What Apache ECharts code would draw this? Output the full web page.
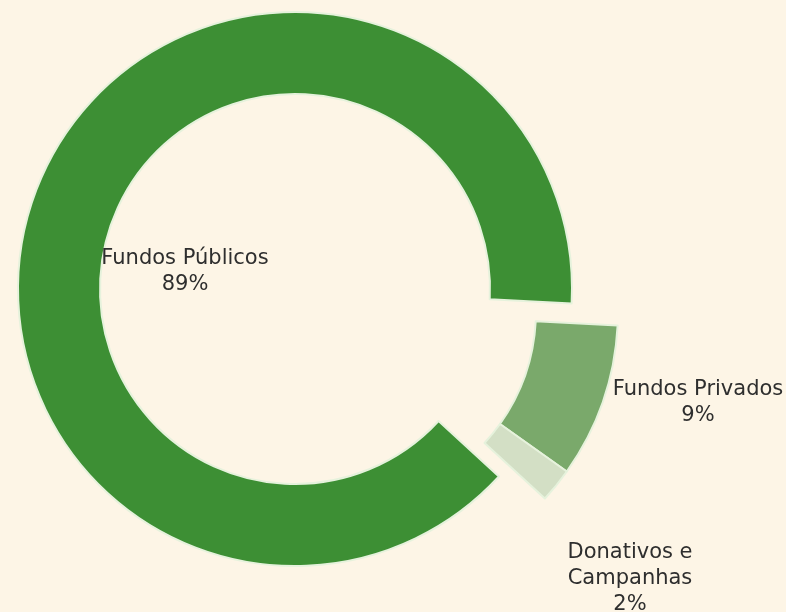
<!DOCTYPE html>
<html>
<head>
<meta charset="utf-8">
<script src="https://cdn.jsdelivr.net/npm/echarts@6/dist/echarts.min.js"></script>
<style>
  html, body { margin: 0; padding: 0; background: #fdf5e6; }
  #chart { width: 786px; height: 612px; }
</style>
</head>
<body>
<div id="chart"></div>
<script>
// Funding sources, share of total (%)
const categories = ['Fundos Privados', 'Donativos e Campanhas', 'Fundos Públicos'];
const shares = [9, 2, 89];
const sliceColors = ['#7aa96b', '#d3dfc5', '#3d8f34'];

// Which categories are pulled out of the ring
const pulledOut = ['Fundos Privados', 'Donativos e Campanhas'];

// Label anchor points (centre of each label block)
const labelSpots = {
  'Fundos Públicos': [185, 272],
  'Fundos Privados': [698, 403],
  'Donativos e Campanhas': [630, 579]
};
const labelText = {
  'Fundos Públicos': 'Fundos Públicos',
  'Fundos Privados': 'Fundos Privados',
  'Donativos e Campanhas': 'Donativos e\nCampanhas'
};

const ringCenter = [295, 289];
const pullOffset = [46, 22];
const ringRadius = [195, 277];

function buildData(showPulled) {
  return categories.map((name, i) => {
    const visible = pulledOut.includes(name) === showPulled;
    return {
      name: name,
      value: shares[i],
      itemStyle: visible
        ? { color: sliceColors[i], borderColor: '#e6f2dc', borderWidth: 2 }
        : { color: 'rgba(0,0,0,0)', borderWidth: 0 },
      label: { show: visible }
    };
  });
}

function makeSeries(showPulled) {
  const c = showPulled
    ? [ringCenter[0] + pullOffset[0], ringCenter[1] + pullOffset[1]]
    : ringCenter;
  return {
    type: 'pie',
    center: c,
    radius: ringRadius,
    startAngle: -3,
    clockwise: true,
    silent: true,
    avoidLabelOverlap: false,
    data: buildData(showPulled),
    label: {
      show: true,
      formatter: p => labelText[p.name] + '\n' + Math.round(p.percent) + '%',
      fontFamily: 'DejaVu Sans',
      fontSize: 21,
      lineHeight: 26,
      color: '#2e2e2e',
      align: 'center'
    },
    labelLine: { show: false },
    labelLayout: function (params) {
      const name = categories[params.dataIndex];
      const spot = labelSpots[name];
      return { x: spot[0], y: spot[1], align: 'center', verticalAlign: 'middle' };
    },
    emphasis: { disabled: true }
  };
}

const chart = echarts.init(document.getElementById('chart'));
chart.setOption({
  backgroundColor: '#fdf5e6',
  animation: false,
  series: [makeSeries(false), makeSeries(true)]
});
</script>
</body>
</html>
